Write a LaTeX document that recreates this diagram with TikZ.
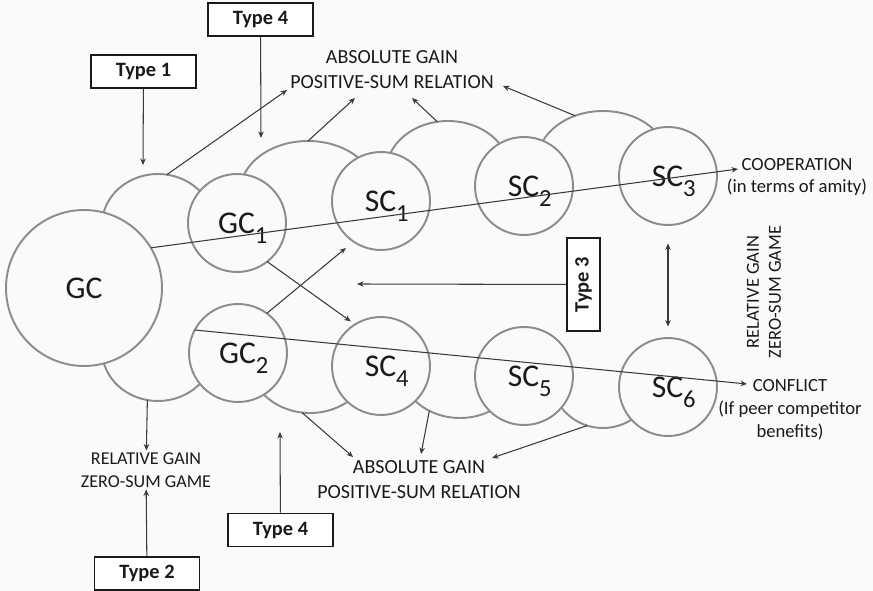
\documentclass[tikz,border=0pt]{standalone}
\usepackage{fontspec}
\setmainfont{Carlito}
\usetikzlibrary{arrows.meta,shapes.geometric}
\definecolor{ink}{HTML}{1A1A1A}
\definecolor{ringgray}{HTML}{8C8C8C}
\definecolor{linegray}{HTML}{3A3A3A}
\definecolor{paper}{HTML}{FAFAFA}
\newcommand{\ringtext}[2]{\hspace*{6.5pt}#1\raisebox{-6pt}{\fontsize{14}{14}\selectfont #2}}

\begin{document}
\begin{tikzpicture}[x=0.02cm, y=-0.02cm, every node/.style={font=\fontsize{10.6}{13}\selectfont, text=ink}, ring/.style={circle,draw=ringgray,fill=paper,line width=1.1pt,minimum size=1.96cm,inner sep=0pt,outer sep=0pt,text depth=0pt,font=\fontsize{18}{18}\selectfont}, bulge/.style={ellipse,minimum height=2.04cm,inner sep=0pt,outer sep=0pt}, arcline/.style={draw=ringgray,line width=1.1pt}, typebox/.style={draw=ink,fill=white,line width=1pt,minimum width=2.1cm,minimum height=0.66cm,inner sep=0pt,font=\bfseries\fontsize{11.6}{12}\selectfont}, note/.style={align=center,inner sep=1pt}, link/.style={draw=linegray,line width=.6pt,-{Stealth[length=1.3mm,width=1.1mm]}}]
\fill[paper] (0,0) rectangle (873,591);
\useasboundingbox (0,0) rectangle (873,591);
\node[bulge,minimum width=2.24cm] (b1) at (158,225) {};
\node[bulge,minimum width=2.72cm] (b2) at (308,192) {};
\node[bulge,minimum width=2.48cm] (b3) at (448,172) {};
\node[bulge,minimum width=2.64cm] (b4) at (603,162) {};
\node[bulge,minimum width=2.24cm] (b5) at (158,350) {};
\node[bulge,minimum width=2.4cm] (b6) at (310,362) {};
\node[bulge,minimum width=2.4cm] (b7) at (460,367) {};
\node[bulge,minimum width=2.08cm] (b8) at (603,377) {};
\foreach \n/\rx/\e in {b1/56/-180,b2/68/-180,b3/62/-180,b4/66/-180,b5/56/180,b6/60/180,b7/60/180,b8/52/180}{\draw[arcline] (\n.east) arc[start angle=0,end angle=\e,x radius=\rx,y radius=51];}
\node[ring,minimum size=3.12cm] (GC) at (84,288) {GC};
\node[ring] (GC1) at (237,223) {\ringtext{GC}{1}};
\node[ring] (SC1) at (381,201) {\ringtext{SC}{1}};
\node[ring] (SC2) at (524,186) {\ringtext{SC}{2}};
\node[ring] (SC3) at (668,176) {\ringtext{SC}{3}};
\node[ring] (GC2) at (238,353) {\ringtext{GC}{2}};
\node[ring] (SC4) at (381,366) {\ringtext{SC}{4}};
\node[ring] (SC5) at (524,376) {\ringtext{SC}{5}};
\node[ring] (SC6) at (668,387) {\ringtext{SC}{6}};
\node[typebox] (t1) at (143.5,71.5) {Type 1};
\node[typebox] (t4a) at (260.5,19.5) {Type 4};
\node[typebox] (t2) at (147,573.5) {Type 2};
\node[typebox] (t4b) at (280.5,530) {Type 4};
\node[typebox,rotate=90,minimum width=1.86cm] (t3) at (583.5,284.5) {Type 3};
\node[note,font=\fontsize{11.4}{14.2}\selectfont] (absT) at (392,70) {ABSOLUTE GAIN\\POSITIVE-SUM RELATION};
\node[note,font=\fontsize{11.4}{14.2}\selectfont] (absB) at (419,480) {ABSOLUTE GAIN\\POSITIVE-SUM RELATION};
\node[note,font=\fontsize{10.3}{13}\selectfont] (relL) at (146,470) {RELATIVE GAIN\\ZERO-SUM GAME};
\node[note,rotate=90,font=\fontsize{10.5}{12.5}\selectfont] (relR) at (764,292) {RELATIVE GAIN\\ZERO-SUM GAME};
\node[note] (coop) at (797,177) {COOPERATION\\(in terms of amity)};
\node[note] (conf) at (790,410) {CONFLICT\\(If peer competitor\\benefits)};
\coordinate (t1e) at (143,165);
\coordinate (t4ae) at (261,138);
\coordinate (t4be) at (280,432);
\coordinate (t3e) at (357,284);
\coordinate (b1e) at (287,90);
\coordinate (b2e) at (355,98);
\coordinate (b3e) at (412,98);
\coordinate (b4e) at (503,86);
\coordinate (b6e) at (353,457);
\coordinate (b7e) at (421,454);
\coordinate (b8e) at (492,458);
\coordinate (coope) at (738,169);
\coordinate (confe) at (747,384);
\foreach \x/\y in {t1/t1e,t4a/t4ae,t4b/t4be,t3/t3e,b1.80/b1e,b2.90/b2e,b3.102/b3e,b4.121/b4e,b5.258/relL,t2/relL,b6.261/b6e,b7.235/b7e,b8.252/b8e,GC.31/coope,GC2.152/confe}{\draw[link] (\x)--(\y);}
\draw[link,shorten >=3pt] (GC1.-52)--(SC4.122);
\draw[link,shorten >=5.7pt] (GC2.54)--(SC1.-124);
\draw[link,{Stealth[length=1.3mm,width=1.1mm]}-{Stealth[length=1.3mm,width=1.1mm]},shorten <=10.5pt,shorten >=6.5pt] (SC3)--(SC6);
\end{tikzpicture}
\end{document}
